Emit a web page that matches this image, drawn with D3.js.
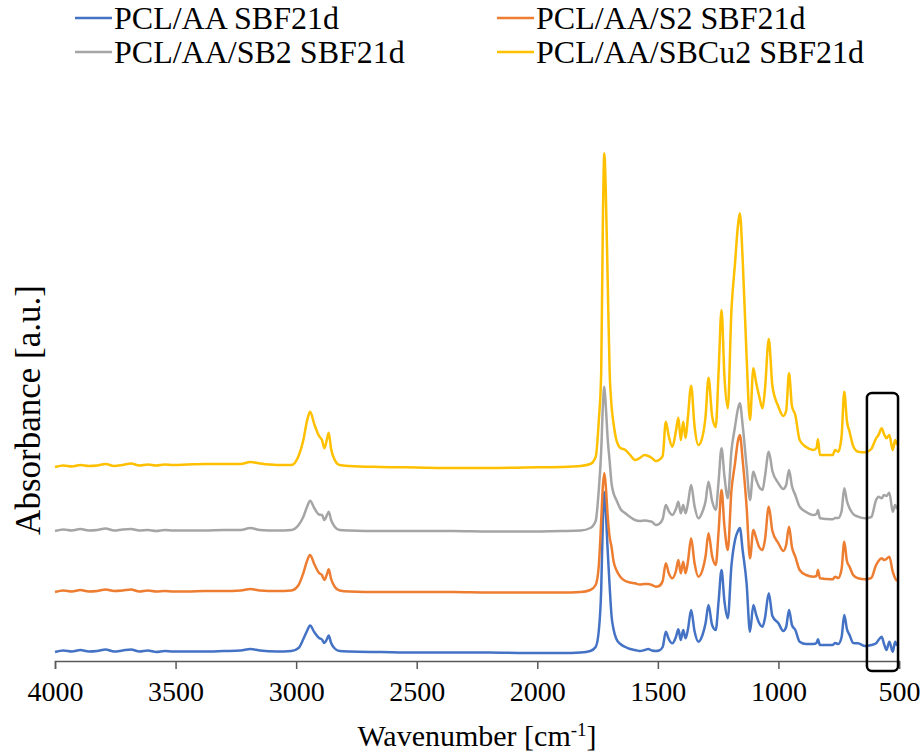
<!DOCTYPE html>
<html>
<head>
<meta charset="utf-8">
<script src="https://cdn.jsdelivr.net/npm/d3@7"></script>
<style>
  body { margin: 0; background: #fff; }
</style>
</head>
<body>
<div id="chart"></div>
<script>
// Wavenumber grid shared by all four spectra (cm-1)
const wavenumbers = [4000, 3965, 3930, 3895, 3860, 3825, 3790, 3755, 3720, 3685,
  3650, 3615, 3580, 3545, 3510, 3450, 3380, 3300, 3230, 3190,
  3150, 3080, 3020, 2990, 2970, 2955, 2942, 2925, 2905, 2893,
  2883, 2872, 2865, 2855, 2840, 2820, 2780, 2650, 2500, 2350,
  2200, 2050, 1900, 1820, 1780, 1758, 1745, 1735, 1728, 1722,
  1716, 1708, 1700, 1692, 1684, 1672, 1655, 1635, 1615, 1595,
  1575, 1555, 1540, 1525, 1508, 1495, 1480, 1467, 1455, 1440,
  1425, 1415, 1405, 1395, 1385, 1375, 1362, 1348, 1332, 1315,
  1302, 1290, 1275, 1260, 1248, 1236, 1224, 1210, 1195, 1180,
  1168, 1160, 1148, 1132, 1118, 1104, 1092, 1080, 1066, 1056,
  1040, 1025, 1000, 980, 968, 956, 944, 930, 912, 885,
  855, 842, 836, 828, 800, 775, 765, 752, 738, 727,
  716, 705, 690, 670, 640, 615, 595, 585, 572, 562,
  552, 540, 526, 516, 508];

// Stacked absorbance (a.u.), as displayed
const pclAA = [9, 10.5, 9.5, 11, 9.5, 10, 11.5, 9.5, 10.5, 11.5,
  9.5, 10.5, 9, 10, 9.5, 9.5, 9.5, 10, 10.5, 12,
  10.5, 9.5, 10, 13, 22, 30, 35.5, 29, 23, 21.5,
  18, 22, 25.5, 18, 12.5, 10, 9.5, 9, 8.5, 8.5,
  8.5, 8, 8, 8.5, 10, 14, 30, 71, 140, 169,
  150, 110, 75, 45, 32, 22, 17, 14, 12, 11,
  10, 11, 12, 10.5, 10, 10.5, 14, 29.3, 22, 17.7,
  24, 31.7, 21, 31, 22.7, 32, 51, 30, 19.3, 26,
  38, 56, 36, 31, 60, 91, 60, 42.7, 95, 121,
  130, 133, 110, 77.7, 29.3, 56, 46, 38, 34.3, 42.7,
  67.7, 45, 37.7, 30, 34, 51, 36, 31, 19.3, 17,
  17, 18, 21.7, 16, 16, 16, 18, 17, 24, 46,
  32, 26, 18, 17.7, 15, 16, 17.7, 21, 24.3, 17,
  11, 19.3, 9.3, 19.3, 15];

const pclAAS2 = [69, 70.5, 69.5, 71, 69.5, 70, 71.5, 70, 70.5, 71.5,
  69.5, 70.5, 69.5, 70, 69.5, 69.5, 70, 70, 70.5, 72,
  70.5, 70, 70.5, 76, 88, 100, 106, 97, 88, 86,
  81, 87, 91.7, 82, 74.3, 70.5, 69.5, 69, 69, 69,
  68.5, 68.5, 68.5, 69, 71, 76, 95, 140, 175, 188,
  175, 145, 124, 114, 100, 91, 84, 80, 78.5, 77.7,
  76.5, 77, 77, 76, 74.3, 75, 80, 97.7, 88, 82.7,
  90, 101, 87.7, 99.3, 87.7, 100, 122.7, 98, 84.3, 91,
  105, 127.7, 105, 96, 130, 171, 135, 111, 170, 197.7,
  220, 226, 200, 154.3, 102.7, 131, 122.7, 114, 111, 121,
  154.3, 130, 117.7, 110, 116, 134.3, 114, 104.3, 91, 86,
  84.3, 85, 91, 82.7, 82, 81.7, 84.3, 83, 92, 119.3,
  100, 94.3, 86, 82.7, 81.7, 83, 96, 100, 102.7, 101,
  102, 104.3, 89.3, 82.7, 80];

const pclAASB2 = [130, 131.5, 130.5, 132, 130.5, 131, 132.5, 130.5, 131.5, 132,
  130.5, 131, 130, 131, 130.5, 130.5, 130.5, 131, 131, 133,
  131, 130.5, 131, 136, 144.3, 154, 160.3, 153, 146.5, 146,
  141, 146, 149.3, 141, 134.3, 131, 130.5, 130, 130, 130,
  129.5, 129.5, 130, 130.5, 133, 140, 171, 210, 255, 274.3,
  255, 222, 200, 177.7, 168, 161, 152, 147.7, 144, 141,
  140, 140.5, 140, 139.3, 136, 137, 142, 156, 150, 146,
  152, 159.3, 147.7, 156, 147.7, 158, 176, 155, 142.7, 149.3,
  160, 179.3, 160, 151, 180, 212.7, 185, 162.7, 210, 234.3,
  252, 257.7, 235, 194.3, 161, 189.3, 181, 174, 171, 184.3,
  209.3, 190, 177.7, 172, 176, 191, 175, 166, 154.3, 149,
  146, 147, 151, 142.7, 142, 141.7, 143, 143, 150, 172.7,
  160, 152.7, 147, 144.3, 142.7, 144, 161, 164.3, 162.7, 166,
  165, 168.3, 149.3, 156, 152];

const pclAASBCu2 = [194, 195.5, 194.5, 196, 195, 195.5, 197, 195, 196, 197.5,
  195.5, 196.5, 195.5, 196.5, 196, 196.5, 197, 197, 197, 199,
  197.5, 196, 196, 205, 221, 240, 249.3, 237, 225, 221,
  212.7, 222, 228.3, 212, 201, 196, 195, 194, 193.5, 193,
  193, 193.5, 194, 195, 197, 204, 240, 288, 440, 507.7,
  470, 380, 290, 255, 238, 221, 213, 211, 206, 201,
  203, 206, 205, 203, 200, 201, 205, 239.3, 225, 214.3,
  230, 243.3, 221, 239.3, 223, 245, 275.3, 235, 216, 224.3,
  245, 283.3, 245, 234, 290, 351, 285, 252.7, 350, 397.7,
  435, 447.7, 400, 304.3, 241, 292.7, 277.7, 265, 252.7, 271,
  322, 275, 254.3, 245, 250, 287.7, 255, 246, 221, 214,
  211, 213, 221.7, 206, 206, 206, 211, 209.3, 225, 269.3,
  240, 229.3, 215, 209.3, 208.7, 212, 222.7, 226, 232.7, 227,
  222.7, 226, 211, 221, 216];

const seriesNames = ["PCL/AA SBF21d", "PCL/AA/S2 SBF21d", "PCL/AA/SB2 SBF21d", "PCL/AA/SBCu2 SBF21d"];
const seriesValues = [pclAA, pclAAS2, pclAASB2, pclAASBCu2];
const seriesColors = ["#4472C4", "#ED7D31", "#A5A5A5", "#FFC000"];

const xTicks = [4000, 3500, 3000, 2500, 2000, 1500, 1000, 500];

// Highlighted band (wavenumber range and a.u. extent)
const boxWavenumbers = [633, 504];
const boxAbsorbance = [268, -10];

const width = 923;
const height = 752;
const margin = { top: 141, right: 24, bottom: 91, left: 55 };
const serif = '"Liberation Serif"';

const svg = d3.select("#chart")
  .append("svg")
  .attr("width", width)
  .attr("height", height);

const x = d3.scaleLinear()
  .domain([4000, 500])
  .range([margin.left, width - margin.right]);

const y = d3.scaleLinear()
  .domain([0, 520])
  .range([height - margin.bottom, margin.top]);

// x axis
const xAxis = svg.append("g")
  .attr("transform", `translate(0, ${y(0)})`)
  .call(d3.axisBottom(x).tickValues(xTicks).tickSize(8).tickPadding(12).tickFormat(d3.format("d")));
xAxis.select(".domain").attr("stroke", "#595959").attr("stroke-width", 1.5);
xAxis.selectAll(".tick line").attr("stroke", "#595959").attr("stroke-width", 1.5);
xAxis.selectAll(".tick text")
  .style("font-family", serif)
  .style("font-size", "28px")
  .attr("fill", "#000");

// Spectra
const line = d3.line()
  .x((d, i) => x(wavenumbers[i]))
  .y(d => y(d))
  .curve(d3.curveMonotoneX);

seriesValues.forEach((vals, k) => {
  svg.append("path")
    .datum(vals)
    .attr("fill", "none")
    .attr("stroke", seriesColors[k])
    .attr("stroke-width", 2.5)
    .attr("stroke-linejoin", "round")
    .attr("d", line);
});

// Highlight box
svg.append("rect")
  .attr("x", x(boxWavenumbers[0]))
  .attr("y", y(boxAbsorbance[0]))
  .attr("width", x(boxWavenumbers[1]) - x(boxWavenumbers[0]))
  .attr("height", y(boxAbsorbance[1]) - y(boxAbsorbance[0]))
  .attr("rx", 5)
  .attr("fill", "none")
  .attr("stroke", "#000")
  .attr("stroke-width", 2.5);

// Axis titles
const xTitle = svg.append("text")
  .attr("x", (x(4000) + x(500)) / 2)
  .attr("y", 746)
  .attr("text-anchor", "middle")
  .style("font-family", serif)
  .style("font-size", "30px")
  .text("Wavenumber [cm");
xTitle.append("tspan").attr("baseline-shift", "super").style("font-size", "19px").text("-1");
xTitle.append("tspan").text("]");

svg.append("text")
  .attr("transform", `translate(40, 410) rotate(-90)`)
  .attr("text-anchor", "middle")
  .style("font-family", serif)
  .style("font-size", "35px")
  .text("Absorbance [a.u.]");

// Legend (two columns)
const legendPos = [[75, 18], [497, 18], [75, 52], [497, 52]];
seriesNames.forEach((name, k) => {
  const g = svg.append("g").attr("transform", `translate(${legendPos[k][0]}, ${legendPos[k][1]})`);
  g.append("line")
    .attr("x1", 0).attr("x2", 37)
    .attr("y1", 0).attr("y2", 0)
    .attr("stroke", seriesColors[k])
    .attr("stroke-width", 2.5);
  g.append("text")
    .attr("x", 39)
    .attr("y", 11)
    .style("font-family", serif)
    .style("font-size", "32px")
    .text(name);
});
</script>
</body>
</html>
